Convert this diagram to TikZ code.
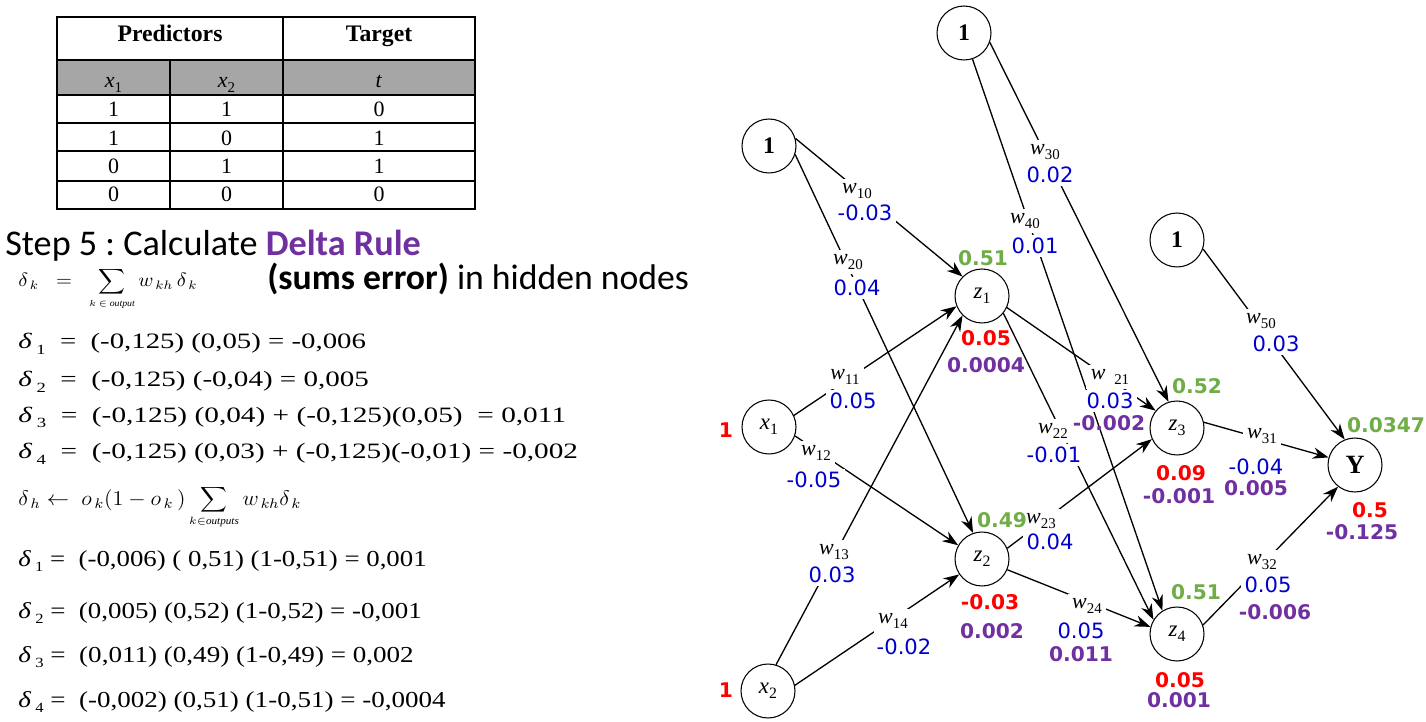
\documentclass[tikz,border=0pt]{standalone}
\usepackage{fontspec}
\usepackage{graphicx}
\setmainfont{Liberation Serif}
\newfontfamily\calib{Carlito}
\newfontfamily\dejav{DejaVu Sans}
\usetikzlibrary{arrows.meta}
\newdimen\pxu \pxu=0.5669pt
\newcommand\fitw[2]{\resizebox{#1\pxu}{\height}{#2}}
\newcommand\dsb[1]{\textit{δ}\hspace{0.15em}\raisebox{-0.55ex}{\fontsize{8}{9}\selectfont #1}}
\newcommand\wl[1]{\textit{w}\raisebox{-0.45ex}{\fontsize{8.5}{9}\selectfont #1}}
\definecolor{nblue}{RGB}{0,0,204}
\definecolor{ngreen}{RGB}{112,173,71}
\definecolor{nred}{RGB}{255,0,0}
\definecolor{npurple}{RGB}{112,48,160}
\definecolor{tgray}{RGB}{166,166,166}
\tikzset{
  neuron/.style={circle, draw, line width=0.6pt, minimum size=1.08cm, inner sep=0pt, fill=white},
  conn/.style={line width=0.75pt, -{Stealth[length=9pt,width=6.5pt]}},
  wlab/.style={fill=white, inner sep=2.5pt, font=\fontsize{12.5}{14}\selectfont},
  num/.style={fill=white, inner sep=2pt, text=nblue, font=\dejav\fontsize{12}{14}\selectfont},
  bnum/.style={inner sep=0pt, font=\dejav\bfseries\fontsize{11.5}{13}\selectfont},
  tcell/.style={anchor=base, inner sep=0pt, font=\fontsize{12.5}{14}\selectfont},
  thead/.style={anchor=base, inner sep=0pt, font=\bfseries\fontsize{13.5}{15}\selectfont},
  fl/.style={anchor=base west, inner sep=0pt}
}
\frenchspacing
\begin{document}
\begin{tikzpicture}[x=0.02cm, y=-0.02cm]
\useasboundingbox (0,0) rectangle (1426,722);
\fill[white] (0,0) rectangle (1426,722);

% ---------- table ----------
\fill[tgray] (57,60) rectangle (475,95);
\draw[line width=0.6pt] (57,17) rectangle (475,209);
\foreach \yy in {60,95,123,151,181} \draw[line width=0.6pt] (57,\yy) -- (475,\yy);
\draw[line width=0.6pt] (283,17) -- (283,209);
\draw[line width=0.6pt] (170,60) -- (170,209);
\node[thead] (hp) at (170,41.7) {Predictors};
\node[thead] (ht) at (379,41.7) {Target};
\node[tcell] (c11) at (113.5,88) {\textit{x}\raisebox{-0.45ex}{\fontsize{8.5}{9}\selectfont 1}};
\node[tcell] (c12) at (226.5,88) {\textit{x}\raisebox{-0.45ex}{\fontsize{8.5}{9}\selectfont 2}};
\node[tcell] (c13) at (379,88) {\textit{t}};
\node[tcell] (r11) at (113.5,117) {1};
\node[tcell] (r12) at (226.5,117) {1};
\node[tcell] (r13) at (379,117) {0};
\node[tcell] (r21) at (113.5,146) {1};
\node[tcell] (r22) at (226.5,146) {0};
\node[tcell] (r23) at (379,146) {1};
\node[tcell] (r31) at (113.5,174) {0};
\node[tcell] (r32) at (226.5,174) {1};
\node[tcell] (r33) at (379,174) {1};
\node[tcell] (r41) at (113.5,202) {0};
\node[tcell] (r42) at (226.5,202) {0};
\node[tcell] (r43) at (379,202) {0};

% ---------- left text ----------
\node[fl] (step) at (5,256) {\calib\fontsize{20.6}{24}\selectfont Step 5 : Calculate \textbf{\color{npurple}Delta Rule}};
\node[fl] (sums) at (267,290) {\calib\fontsize{20.3}{24}\selectfont \textbf{(sums error)} in hidden nodes};

\node[fl] (fk) at (18,287) {\fitw{180}{\fontsize{10.5}{12}\selectfont $\delta_{\,k}\;\;=\;\;\displaystyle\sum_{\scriptscriptstyle k\,\in\,\mathit{output}} w_{\,kh}\,\delta_{\,k}$}};
\node[fl] (a1) at (18,349) {\fitw{349}{\fontsize{12.5}{14}\selectfont \dsb{1}\ \ =\ \ (-0,125) (0,05) = -0,006}};
\node[fl] (a2) at (18,387) {\fitw{352}{\fontsize{12.5}{14}\selectfont \dsb{2}\ \ =\ \ (-0,125) (-0,04) = 0,005}};
\node[fl] (a3) at (18,422) {\fitw{550}{\fontsize{12.5}{14}\selectfont \dsb{3}\ \ =\ \ (-0,125) (0,04) + (-0,125)(0,05) \ = 0,011}};
\node[fl] (a4) at (18,459) {\fitw{562}{\fontsize{12.5}{14}\selectfont \dsb{4}\ \ =\ \ (-0,125) (0,03) + (-0,125)(-0,01) = -0,002}};

\node[fl] (fh) at (18,505) {\fitw{284}{\fontsize{12}{14}\selectfont $\delta_{\,h}\leftarrow\; o_{\,k}\bigl(1-o_{\,k}\,\bigr)\displaystyle\sum_{\scriptscriptstyle k\in\mathit{outputs}} w_{\,kh}\delta_{\,k}$}};
\node[fl] (b1l) at (18,566) {\fitw{410}{\fontsize{13}{15}\selectfont \dsb{1}\ = \ (-0,006) ( 0,51) (1-0,51) = 0,001}};
\node[fl] (b2l) at (18,618) {\fitw{405}{\fontsize{13}{15}\selectfont \dsb{2}\ = \ (0,005) (0,52) (1-0,52) = -0,001}};
\node[fl] (b3l) at (18,662) {\fitw{397}{\fontsize{13}{15}\selectfont \dsb{3}\ = \ (0,011) (0,49) (1-0,49) = 0,002}};
\node[fl] (b4l) at (18,707) {\fitw{429}{\fontsize{13}{15}\selectfont \dsb{4}\ = \ (-0,002) (0,51) (1-0,51) = -0,0004}};

% ---------- network nodes ----------
\node[neuron, font=\bfseries\fontsize{13.5}{15}\selectfont] (b3) at (964,33) {1};
\node[neuron, font=\bfseries\fontsize{13.5}{15}\selectfont] (b1) at (769,146) {1};
\node[neuron, font=\bfseries\fontsize{13.5}{15}\selectfont] (b5) at (1177,240) {1};
\node[neuron, font=\fontsize{13}{15}\selectfont] (x1) at (769,427) {\textit{x}\raisebox{-0.45ex}{\fontsize{9}{10}\selectfont 1}};
\node[neuron, font=\fontsize{13}{15}\selectfont] (x2) at (768,691) {\textit{x}\raisebox{-0.45ex}{\fontsize{9}{10}\selectfont 2}};
\node[neuron, font=\fontsize{13}{15}\selectfont] (z1) at (982,296) {\textit{z}\raisebox{-0.45ex}{\fontsize{9}{10}\selectfont 1}};
\node[neuron, font=\fontsize{13}{15}\selectfont] (z2) at (982,559) {\textit{z}\raisebox{-0.45ex}{\fontsize{9}{10}\selectfont 2}};
\node[neuron, font=\fontsize{13}{15}\selectfont] (z3) at (1177,428) {\textit{z}\raisebox{-0.45ex}{\fontsize{9}{10}\selectfont 3}};
\node[neuron, font=\fontsize{13}{15}\selectfont] (z4) at (1177,634) {\textit{z}\raisebox{-0.45ex}{\fontsize{9}{10}\selectfont 4}};
\node[neuron, font=\bfseries\fontsize{15}{17}\selectfont] (Y) at (1355,465) {Y};

% ---------- connectors ----------
\draw[conn] (b1.16) -- (z1.135);
\draw[conn] (b1.-18) -- (z2.109);
\draw[conn] (b3.-20) -- (z3.108);
\draw[conn] (b3.-72) -- (z4.122);
\draw[conn] (b5.-19) -- (Y.112);
\draw[conn] (x1.25) -- (z1.202);
\draw[conn] (x1.-19) -- (z2.150);
\draw[conn] (x2.73) -- (z1.225);
\draw[conn] (x2.12) -- (z2.214);
\draw[conn] (z1.-25) -- (z3.141);
\draw[conn] (z1.-39) -- (z4.149);
\draw[conn] (z2.23) -- (z3.204);
\draw[conn] (z2.-23) -- (z4.165);
\draw[conn] (z3.12) -- (Y.164);
\draw[conn] (z4.19) -- (Y.232);

% ---------- weight labels ----------
\node[wlab] (lw10) at (857,191) {\wl{10}};
\node[num] (n10) at (865,213) {-0.03};
\node[wlab] (lw20) at (848,262) {\wl{20}};
\node[num] (n20) at (857,288) {0.04};
\node[wlab] (lw30) at (1045,152) {\wl{30}};
\node[num] (n30) at (1050,175) {0.02};
\node[wlab] (lw40) at (1025,221) {\wl{40}};
\node[num] (n40) at (1035,246) {0.01};
\node[wlab] (lw50) at (1261,321) {\wl{50}};
\node[num] (n50) at (1276,344) {0.03};
\node[wlab] (lw11) at (845,377) {\wl{11}};
\node[num] (n11) at (853,401) {0.05};
\node[wlab] (lw12) at (816,453) {\wl{12}};
\node[num] (n12) at (814,480) {-0.05};
\node[wlab] (lw13) at (834,552) {\wl{13}};
\node[num] (n13) at (832,575) {0.03};
\node[wlab] (lw14) at (893,621) {\wl{14}};
\node[num] (n14) at (904,647) {-0.02};
\node[wlab] (lw21) at (1110,377) {\textit{w}\hspace{5pt}\raisebox{-0.45ex}{\fontsize{8.5}{9}\selectfont 21}};
\node[num] (n21) at (1110,401) {0.03};
\node[wlab] (lw22) at (1053,431) {\wl{22}};
\node[num] (n22) at (1054,455) {-0.01};
\node[wlab] (lw23) at (1041,521) {\wl{23}};
\node[num] (n23) at (1050,542) {0.04};
\node[wlab] (lw24) at (1087,606) {\wl{24}};
\node[num] (n24) at (1081,631) {0.05};
\node[wlab] (lw31) at (1262,436) {\wl{31}};
\node[num] (n31) at (1256,467) {-0.04};
\node[wlab] (lw32) at (1262,562) {\wl{32}};
\node[num] (n32) at (1268,585) {0.05};

% ---------- coloured values ----------
\node[bnum, text=npurple] (p21) at (1109,423) {-0.002};
\node[bnum, text=npurple] (p24) at (1081,654) {0.011};
\node[bnum, text=npurple] (p31) at (1256,488) {0.005};
\node[bnum, text=npurple] (p32) at (1275,612) {-0.006};

\node[bnum, text=ngreen] (g1) at (983,258) {0.51};
\node[bnum, text=nred] (r1) at (986,338) {0.05};
\node[bnum, text=npurple] (p1) at (986,365) {0.0004};
\node[bnum, text=ngreen] (g2) at (1002,520) {0.49};
\node[bnum, text=nred] (r2) at (990,602) {-0.03};
\node[bnum, text=npurple] (p2) at (992,631) {0.002};
\node[bnum, text=ngreen] (g3) at (1197,386) {0.52};
\node[bnum, text=nred] (r3) at (1181,473) {0.09};
\node[bnum, text=npurple] (p3) at (1179,496) {-0.001};
\node[bnum, text=ngreen] (g4) at (1196,592) {0.51};
\node[bnum, text=nred] (r4) at (1180,680) {0.05};
\node[bnum, text=npurple] (p4) at (1179,700) {0.001};
\node[bnum, text=ngreen] (gy) at (1386,425) {0.0347};
\node[bnum, text=nred] (ry) at (1370,510) {0.5};
\node[bnum, text=npurple] (py) at (1362,532) {-0.125};
\node[bnum, text=nred] (i1) at (726,430) {1};
\node[bnum, text=nred] (i2) at (726,690) {1};
\end{tikzpicture}
\end{document}
